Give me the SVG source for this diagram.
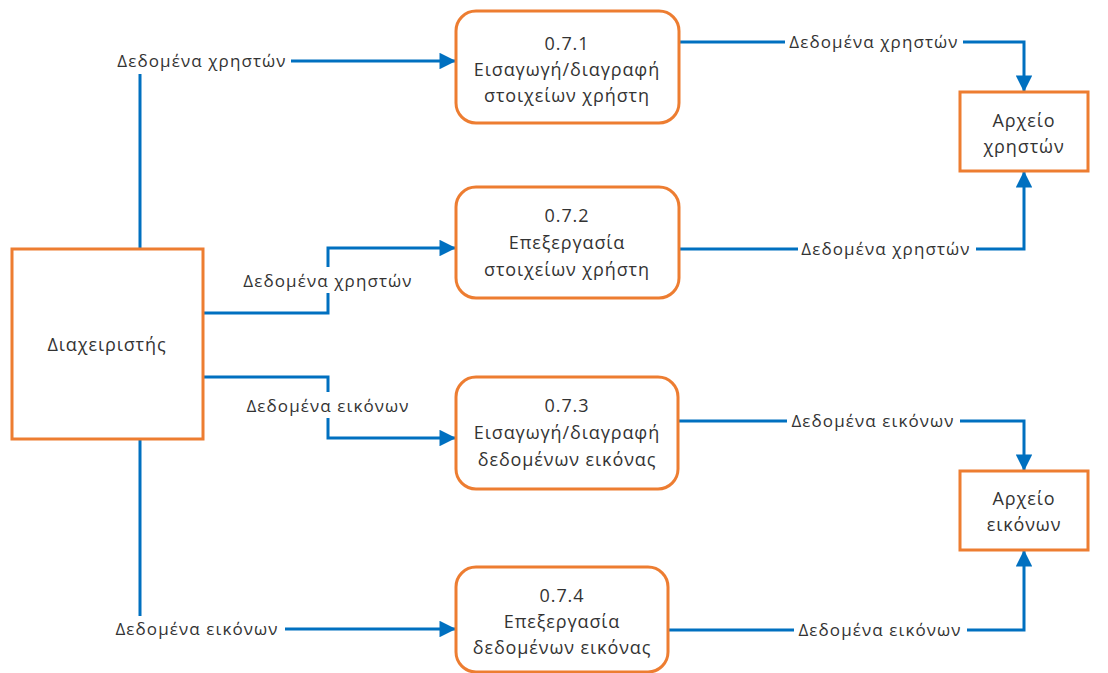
<svg xmlns="http://www.w3.org/2000/svg" width="1108" height="673" viewBox="0 0 1108 673">
  <style>
    .box { fill: #ffffff; stroke: #ED7D31; stroke-width: 3; }
    .node-text { font-family: "Open Sans", "Noto Sans", sans-serif; font-size: 18px; letter-spacing: 0.9px; fill: #333333; text-anchor: middle; }
    .flow { fill: none; stroke: #0070C0; stroke-width: 3; marker-end: url(#arrow); }
    .flow-label { font-family: "Open Sans", "Noto Sans", sans-serif; font-size: 17px; letter-spacing: 1.1px; fill: #333333; text-anchor: middle; }
    .label-bg { fill: #ffffff; }
  </style>
  <defs>
    <marker id="arrow" viewBox="0 0 10 10" refX="10" refY="5" markerWidth="6.5" markerHeight="5.5" markerUnits="strokeWidth" orient="auto">
      <path d="M0,0 L10,5 L0,10 z" fill="#0070C0"/>
    </marker>
  </defs>
  <rect width="1108" height="673" fill="#ffffff"/>

  <!-- data flows -->
  <g id="connectors">
    <path class="flow" d="M140,249 V61 H456"/>
    <path class="flow" d="M203,313 H328 V248 H456"/>
    <path class="flow" d="M203,377 H328 V438 H456"/>
    <path class="flow" d="M140,439 V629 H456"/>
    <path class="flow" d="M679,42 H1024 V92"/>
    <path class="flow" d="M679,249 H1024 V171"/>
    <path class="flow" d="M678,421 H1024 V471"/>
    <path class="flow" d="M668,630 H1024 V550"/>

    <rect class="label-bg" x="113" y="48" width="178" height="26"/>
    <text class="flow-label" x="202" y="67">Δεδομένα χρηστών</text>
    <rect class="label-bg" x="238" y="267" width="180" height="26"/>
    <text class="flow-label" x="328" y="287">Δεδομένα χρηστών</text>
    <rect class="label-bg" x="240" y="392" width="176" height="26"/>
    <text class="flow-label" x="328" y="412">Δεδομένα εικόνων</text>
    <rect class="label-bg" x="110" y="616" width="175" height="26"/>
    <text class="flow-label" x="197" y="635">Δεδομένα εικόνων</text>
    <rect class="label-bg" x="785" y="29" width="178" height="26"/>
    <text class="flow-label" x="874" y="48">Δεδομένα χρηστών</text>
    <rect class="label-bg" x="798" y="236" width="178" height="26"/>
    <text class="flow-label" x="886" y="255">Δεδομένα χρηστών</text>
    <rect class="label-bg" x="787" y="408" width="173" height="26"/>
    <text class="flow-label" x="873" y="427">Δεδομένα εικόνων</text>
    <rect class="label-bg" x="794" y="617" width="173" height="26"/>
    <text class="flow-label" x="880" y="636">Δεδομένα εικόνων</text>
  </g>

  <g id="admin">
    <rect class="box" x="12" y="249" width="191" height="190"/>
    <text class="node-text" x="107" y="351">Διαχειριστής</text>
  </g>

  <g id="p071">
    <rect class="box" x="456" y="11" width="223" height="112" rx="20"/>
    <text class="node-text" x="567" y="50">0.7.1</text>
    <text class="node-text" x="567" y="76">Εισαγωγή/διαγραφή</text>
    <text class="node-text" x="567" y="102">στοιχείων χρήστη</text>
  </g>

  <g id="p072">
    <rect class="box" x="456" y="187" width="223" height="111" rx="20"/>
    <text class="node-text" x="567" y="222">0.7.2</text>
    <text class="node-text" x="567" y="249">Επεξεργασία</text>
    <text class="node-text" x="567" y="276">στοιχείων χρήστη</text>
  </g>

  <g id="p073">
    <rect class="box" x="456" y="377" width="222" height="112" rx="20"/>
    <text class="node-text" x="567" y="412">0.7.3</text>
    <text class="node-text" x="567" y="439">Εισαγωγή/διαγραφή</text>
    <text class="node-text" x="567" y="466">δεδομένων εικόνας</text>
  </g>

  <g id="p074">
    <rect class="box" x="456" y="567" width="212" height="105" rx="20"/>
    <text class="node-text" x="562" y="602">0.7.4</text>
    <text class="node-text" x="562" y="628">Επεξεργασία</text>
    <text class="node-text" x="562" y="654">δεδομένων εικόνας</text>
  </g>

  <g id="users-store">
    <rect class="box" x="960" y="92" width="128" height="79"/>
    <text class="node-text" x="1024" y="127">Αρχείο</text>
    <text class="node-text" x="1024" y="153">χρηστών</text>
  </g>

  <g id="images-store">
    <rect class="box" x="960" y="471" width="128" height="79"/>
    <text class="node-text" x="1024" y="505">Αρχείο</text>
    <text class="node-text" x="1024" y="531">εικόνων</text>
  </g>
</svg>
